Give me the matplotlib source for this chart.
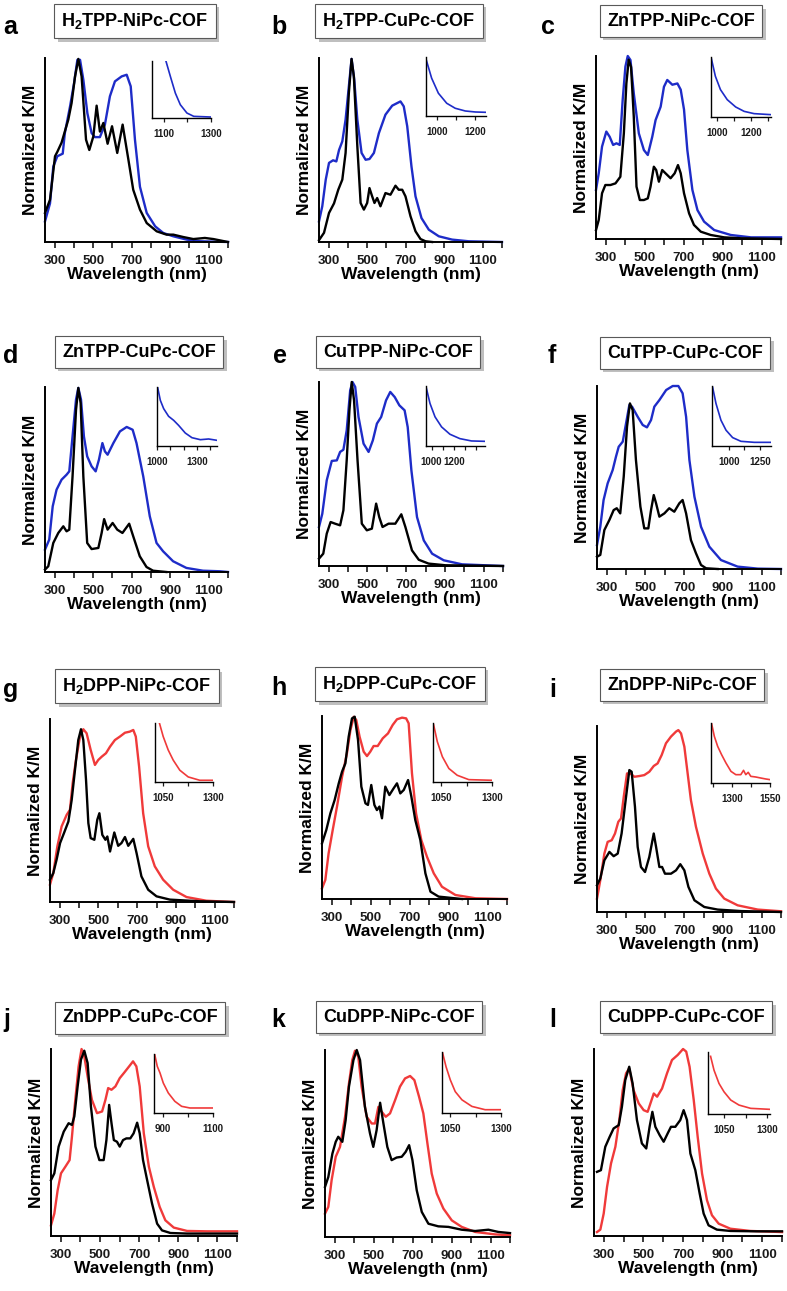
import numpy as np
import matplotlib
matplotlib.use('Agg')
import matplotlib.pyplot as plt
import matplotlib.patheffects as pe
from matplotlib.ticker import FixedLocator

plt.rcParams['font.family'] = ['Liberation Sans', 'DejaVu Sans']
plt.rcParams['font.weight'] = 'bold'
plt.rcParams['mathtext.fontset'] = 'custom'
plt.rcParams['mathtext.rm'] = 'Liberation Sans:bold'
plt.rcParams['mathtext.it'] = 'Liberation Sans:bold'
plt.rcParams['mathtext.bf'] = 'Liberation Sans:bold'

BLUE = '#1e2cc8'
RED = '#f03a3a'

# ---- panel a : H2TPP-NiPc-COF ----
a_wl_k = [250, 276, 302, 314, 336, 371, 388, 406, 423, 440, 463, 480, 501, 518, 535, 553, 575, 598, 625, 653, 683, 708, 743, 778, 830, 881, 916, 968, 1020, 1080, 1124, 1200]
a_k = [0.158, 0.23, 0.466, 0.49, 0.54, 0.665, 0.755, 0.9, 0.995, 0.9, 0.556, 0.50, 0.574, 0.741, 0.60, 0.647, 0.534, 0.629, 0.484, 0.638, 0.447, 0.284, 0.176, 0.103, 0.058, 0.04, 0.04, 0.027, 0.016, 0.022, 0.016, 0.0]
a_wl_c = [250, 276, 293, 314, 342, 353, 380, 401, 418, 432, 449, 470, 492, 509, 535, 561, 587, 613, 648, 674, 695, 717, 743, 778, 822, 864, 916, 985, 1055, 1200]
a_c = [0.112, 0.21, 0.41, 0.466, 0.48, 0.592, 0.737, 0.864, 0.99, 0.99, 0.882, 0.70, 0.592, 0.57, 0.57, 0.638, 0.792, 0.873, 0.90, 0.909, 0.846, 0.556, 0.30, 0.158, 0.085, 0.049, 0.031, 0.013, 0.004, 0.0]
a_in_wl = [1109, 1128, 1149, 1170, 1198, 1227, 1300]
a_in = [1.0, 0.727, 0.436, 0.233, 0.087, 0.029, 0.017]

# ---- panel b : H2TPP-CuPc-COF ----
b_wl_k = [250, 276, 302, 328, 350, 371, 388, 405, 419, 431, 449, 466, 483, 500, 512, 526, 538, 552, 569, 595, 621, 647, 664, 682, 699, 725, 751, 777, 803, 837]
b_k = [0.01, 0.05, 0.158, 0.21, 0.284, 0.339, 0.484, 0.81, 0.995, 0.90, 0.52, 0.212, 0.176, 0.212, 0.293, 0.248, 0.212, 0.239, 0.194, 0.266, 0.257, 0.306, 0.284, 0.284, 0.248, 0.14, 0.058, 0.016, 0.004, 0.0]
b_wl_c = [250, 267, 285, 302, 323, 340, 354, 371, 388, 405, 419, 433, 449, 471, 492, 512, 535, 561, 595, 630, 656, 673, 690, 708, 730, 751, 782, 820, 872, 941, 1027, 1200]
b_c = [0.112, 0.194, 0.339, 0.43, 0.444, 0.438, 0.50, 0.547, 0.665, 0.846, 0.995, 0.882, 0.665, 0.484, 0.447, 0.451, 0.484, 0.592, 0.692, 0.741, 0.755, 0.764, 0.737, 0.629, 0.411, 0.248, 0.13, 0.067, 0.031, 0.013, 0.004, 0.0]
b_in_wl = [945, 974, 1009, 1052, 1096, 1148, 1200, 1255]
b_in = [0.966, 0.642, 0.386, 0.216, 0.131, 0.085, 0.068, 0.0625]

# ---- panel c : ZnTPP-NiPc-COF ----
c_wl_k = [250, 264, 281, 298, 324, 350, 375, 393, 406, 418, 430, 444, 458, 475, 496, 516, 530, 547, 559, 573, 590, 607, 633, 654, 671, 685, 702, 728, 753, 788, 839, 908, 994, 1200]
c_k = [0.049, 0.104, 0.25, 0.295, 0.295, 0.304, 0.34, 0.577, 0.85, 0.98, 0.94, 0.668, 0.286, 0.213, 0.213, 0.222, 0.286, 0.395, 0.377, 0.313, 0.377, 0.359, 0.332, 0.359, 0.404, 0.359, 0.25, 0.14, 0.077, 0.04, 0.022, 0.009, 0.004, 0.0]
c_wl_c = [250, 264, 281, 303, 320, 338, 355, 372, 387, 401, 413, 427, 444, 470, 496, 516, 539, 556, 582, 599, 616, 642, 668, 685, 702, 719, 745, 771, 805, 857, 942, 1046, 1200]
c_c = [0.268, 0.359, 0.505, 0.587, 0.559, 0.514, 0.523, 0.514, 0.76, 0.942, 1.0, 0.978, 0.796, 0.577, 0.486, 0.459, 0.559, 0.65, 0.723, 0.832, 0.869, 0.843, 0.85, 0.816, 0.707, 0.486, 0.268, 0.158, 0.095, 0.049, 0.022, 0.009, 0.009]
c_in_wl = [965, 991, 1021, 1061, 1111, 1161, 1220, 1320]
c_in = [1.0, 0.678, 0.456, 0.289, 0.167, 0.094, 0.056, 0.039]

# ---- panel d : ZnTPP-CuPc-COF ----
d_wl_k = [250, 267, 293, 319, 345, 362, 376, 393, 411, 423, 435, 449, 469, 492, 527, 544, 557, 575, 601, 625, 652, 687, 708, 742, 777, 811, 880]
d_k = [0.013, 0.031, 0.157, 0.211, 0.247, 0.22, 0.229, 0.517, 0.877, 0.995, 0.913, 0.517, 0.157, 0.124, 0.13, 0.211, 0.286, 0.229, 0.265, 0.229, 0.211, 0.261, 0.193, 0.085, 0.027, 0.007, 0.0]
d_wl_c = [250, 272, 290, 310, 336, 362, 376, 393, 411, 423, 437, 452, 469, 492, 513, 530, 548, 561, 575, 605, 639, 674, 705, 725, 760, 794, 829, 863, 915, 984, 1070, 1157, 1200]
d_c = [0.121, 0.175, 0.355, 0.445, 0.499, 0.526, 0.544, 0.733, 0.932, 0.995, 0.932, 0.733, 0.625, 0.571, 0.544, 0.607, 0.697, 0.652, 0.634, 0.697, 0.76, 0.784, 0.769, 0.697, 0.517, 0.301, 0.157, 0.112, 0.058, 0.022, 0.007, 0.004, 0.0]
d_in_wl = [1005, 1025, 1050, 1087, 1125, 1162, 1212, 1262, 1325, 1387, 1450]
d_in = [0.99, 0.774, 0.633, 0.503, 0.435, 0.35, 0.22, 0.141, 0.107, 0.119, 0.096]

# ---- panel e : CuTPP-NiPc-COF ----
e_wl_k = [250, 272, 290, 310, 333, 359, 376, 393, 407, 419, 431, 449, 471, 497, 523, 545, 561, 578, 609, 644, 675, 696, 730, 765, 816, 903, 1200]
e_k = [0.04, 0.067, 0.176, 0.239, 0.23, 0.221, 0.303, 0.574, 0.846, 1.0, 0.9, 0.574, 0.23, 0.194, 0.203, 0.339, 0.266, 0.212, 0.23, 0.23, 0.281, 0.212, 0.085, 0.034, 0.013, 0.004, 0.0]
e_wl_c = [250, 267, 290, 316, 342, 359, 376, 393, 411, 423, 437, 454, 480, 506, 528, 549, 571, 596, 618, 641, 665, 692, 708, 727, 756, 791, 834, 894, 989, 1200]
e_c = [0.212, 0.284, 0.466, 0.571, 0.574, 0.62, 0.632, 0.737, 0.955, 1.0, 0.973, 0.81, 0.665, 0.62, 0.683, 0.774, 0.81, 0.9, 0.946, 0.918, 0.873, 0.846, 0.755, 0.52, 0.266, 0.139, 0.067, 0.031, 0.009, 0.0]
e_in_wl = [950, 986, 1031, 1090, 1165, 1254, 1359, 1478]
e_in = [0.989, 0.709, 0.486, 0.318, 0.196, 0.123, 0.084, 0.078]

# ---- panel f : CuTPP-CuPc-COF ----
f_wl_k = [250, 267, 288, 314, 336, 352, 370, 388, 405, 420, 434, 451, 474, 494, 515, 529, 543, 555, 572, 598, 623, 649, 675, 692, 710, 735, 761, 787, 813, 873]
f_k = [0.067, 0.077, 0.213, 0.268, 0.322, 0.332, 0.304, 0.505, 0.778, 0.905, 0.869, 0.596, 0.341, 0.222, 0.222, 0.322, 0.404, 0.359, 0.286, 0.304, 0.332, 0.313, 0.359, 0.377, 0.304, 0.158, 0.086, 0.022, 0.004, 0.0]
f_wl_c = [250, 267, 284, 305, 331, 348, 362, 383, 400, 417, 431, 460, 486, 508, 529, 546, 572, 607, 641, 670, 692, 710, 727, 753, 787, 830, 890, 976, 1080, 1200]
f_c = [0.131, 0.231, 0.377, 0.468, 0.541, 0.614, 0.668, 0.696, 0.796, 0.896, 0.887, 0.832, 0.787, 0.774, 0.814, 0.887, 0.923, 0.978, 1.0, 1.0, 0.96, 0.832, 0.596, 0.395, 0.231, 0.122, 0.049, 0.013, 0.002, 0.0]
f_in_wl = [870, 897, 937, 978, 1031, 1098, 1206, 1340]
f_in = [0.978, 0.709, 0.43, 0.263, 0.14, 0.078, 0.061, 0.061]

# ---- panel g : H2DPP-NiPc-COF ----
g_wl_k = [250, 267, 284, 302, 322, 345, 362, 379, 396, 410, 422, 436, 448, 460, 479, 494, 505, 520, 536, 546, 560, 582, 602, 619, 637, 654, 680, 697, 722, 757, 800, 869, 1023, 1200]
g_k = [0.122, 0.158, 0.231, 0.322, 0.376, 0.44, 0.558, 0.722, 0.885, 0.944, 0.885, 0.667, 0.431, 0.349, 0.34, 0.449, 0.485, 0.367, 0.34, 0.358, 0.276, 0.38, 0.307, 0.322, 0.355, 0.307, 0.345, 0.267, 0.14, 0.067, 0.031, 0.013, 0.004, 0.0]
g_wl_c = [250, 267, 288, 310, 336, 353, 367, 384, 405, 422, 439, 460, 482, 499, 517, 539, 560, 585, 611, 637, 662, 680, 693, 710, 731, 757, 791, 834, 886, 955, 1057, 1200]
g_c = [0.095, 0.158, 0.304, 0.413, 0.476, 0.504, 0.649, 0.776, 0.904, 0.944, 0.922, 0.831, 0.749, 0.776, 0.794, 0.813, 0.849, 0.885, 0.904, 0.925, 0.931, 0.94, 0.904, 0.74, 0.485, 0.304, 0.195, 0.122, 0.067, 0.027, 0.007, 0.0]
g_in_wl = [1032, 1051, 1076, 1101, 1134, 1176, 1234, 1300]
g_in = [1.0, 0.771, 0.543, 0.371, 0.2, 0.086, 0.029, 0.029]

# ---- panel h : H2DPP-CuPc-COF ----
h_wl_k = [250, 272, 293, 315, 336, 353, 370, 387, 404, 418, 435, 452, 473, 486, 503, 519, 532, 545, 558, 575, 596, 618, 635, 652, 670, 692, 709, 729, 755, 781, 807, 849, 969]
h_k = [0.304, 0.377, 0.468, 0.541, 0.632, 0.696, 0.741, 0.887, 0.987, 0.996, 0.869, 0.614, 0.523, 0.514, 0.623, 0.514, 0.486, 0.505, 0.441, 0.614, 0.568, 0.605, 0.632, 0.577, 0.596, 0.65, 0.559, 0.432, 0.322, 0.14, 0.04, 0.013, 0.0]
h_wl_c = [250, 267, 284, 305, 327, 353, 378, 396, 413, 426, 443, 464, 481, 498, 515, 536, 562, 589, 613, 635, 661, 682, 695, 712, 733, 760, 789, 824, 866, 935, 1038, 1200]
h_c = [0.058, 0.104, 0.25, 0.377, 0.505, 0.668, 0.796, 0.923, 0.996, 0.978, 0.887, 0.805, 0.781, 0.805, 0.836, 0.836, 0.878, 0.905, 0.951, 0.982, 0.991, 0.987, 0.96, 0.687, 0.468, 0.322, 0.231, 0.14, 0.067, 0.022, 0.004, 0.0]
h_in_wl = [1013, 1031, 1056, 1088, 1129, 1186, 1300]
h_in = [0.971, 0.686, 0.429, 0.229, 0.114, 0.04, 0.029]

# ---- panel i : ZnDPP-NiPc-COF ----
i_wl_k = [250, 267, 288, 314, 336, 357, 377, 400, 417, 429, 446, 460, 477, 498, 520, 543, 555, 572, 586, 601, 632, 658, 680, 701, 722, 753, 804, 873, 994, 1200]
i_k = [0.144, 0.18, 0.278, 0.323, 0.3, 0.314, 0.422, 0.619, 0.763, 0.754, 0.566, 0.35, 0.242, 0.215, 0.296, 0.422, 0.35, 0.242, 0.242, 0.206, 0.206, 0.224, 0.257, 0.224, 0.135, 0.063, 0.027, 0.013, 0.005, 0.0]
i_wl_c = [250, 267, 288, 305, 326, 343, 360, 374, 388, 405, 422, 443, 469, 494, 520, 543, 563, 584, 606, 632, 658, 670, 684, 701, 718, 735, 761, 796, 830, 864, 907, 976, 1080, 1200]
i_c = [0.072, 0.171, 0.314, 0.377, 0.386, 0.422, 0.485, 0.503, 0.619, 0.745, 0.745, 0.727, 0.731, 0.736, 0.754, 0.785, 0.799, 0.844, 0.907, 0.943, 0.97, 0.978, 0.96, 0.889, 0.745, 0.601, 0.458, 0.314, 0.206, 0.126, 0.072, 0.036, 0.013, 0.004]
i_in_wl = [1164, 1182, 1204, 1230, 1259, 1292, 1324, 1357, 1375, 1390, 1406, 1423, 1456, 1489, 1522, 1550]
i_in = [0.989, 0.778, 0.611, 0.472, 0.333, 0.194, 0.139, 0.139, 0.211, 0.139, 0.178, 0.111, 0.1, 0.083, 0.067, 0.056]

# ---- panel j : ZnDPP-CuPc-COF ----
j_wl_k = [250, 267, 289, 315, 340, 357, 369, 386, 403, 420, 437, 454, 477, 497, 519, 533, 547, 559, 571, 587, 601, 618, 635, 655, 672, 690, 703, 720, 741, 766, 792, 817, 860, 945, 1200]
j_k = [0.299, 0.335, 0.478, 0.558, 0.603, 0.594, 0.639, 0.8, 0.943, 0.991, 0.925, 0.692, 0.478, 0.406, 0.406, 0.513, 0.701, 0.603, 0.513, 0.504, 0.478, 0.513, 0.522, 0.522, 0.549, 0.606, 0.549, 0.406, 0.299, 0.174, 0.066, 0.03, 0.016, 0.013, 0.013]
j_wl_c = [250, 267, 284, 301, 323, 345, 357, 374, 391, 406, 420, 437, 459, 485, 511, 528, 542, 559, 579, 601, 625, 652, 669, 686, 703, 724, 750, 775, 805, 834, 877, 945, 1047, 1200]
j_c = [0.057, 0.12, 0.245, 0.335, 0.37, 0.406, 0.531, 0.728, 0.907, 1.0, 0.961, 0.853, 0.728, 0.657, 0.666, 0.728, 0.791, 0.782, 0.8, 0.844, 0.875, 0.911, 0.934, 0.907, 0.8, 0.549, 0.37, 0.263, 0.156, 0.084, 0.045, 0.027, 0.025, 0.025]
j_in_wl = [868, 878, 889, 902, 922, 948, 975, 1008, 1100]
j_in = [0.989, 0.791, 0.678, 0.508, 0.339, 0.198, 0.113, 0.085, 0.085]

# ---- panel k : CuDPP-NiPc-COF ----
k_wl_k = [250, 267, 288, 305, 318, 339, 356, 373, 396, 413, 430, 455, 481, 498, 515, 533, 550, 570, 592, 618, 644, 664, 682, 699, 721, 747, 781, 832, 884, 952, 1021, 1089, 1140, 1200]
k_k = [0.268, 0.321, 0.446, 0.509, 0.536, 0.509, 0.625, 0.804, 0.946, 1.0, 0.946, 0.696, 0.554, 0.482, 0.571, 0.718, 0.607, 0.482, 0.411, 0.425, 0.429, 0.455, 0.491, 0.411, 0.25, 0.134, 0.071, 0.057, 0.054, 0.039, 0.032, 0.039, 0.027, 0.021]
k_wl_c = [250, 267, 284, 305, 327, 353, 373, 390, 404, 421, 438, 464, 490, 507, 524, 541, 562, 584, 610, 635, 661, 687, 709, 733, 755, 776, 798, 824, 858, 901, 952, 1021, 1123, 1200]
k_c = [0.125, 0.161, 0.304, 0.429, 0.482, 0.643, 0.821, 0.946, 0.996, 0.964, 0.804, 0.643, 0.607, 0.607, 0.696, 0.67, 0.643, 0.661, 0.732, 0.804, 0.848, 0.861, 0.839, 0.75, 0.661, 0.5, 0.339, 0.232, 0.152, 0.089, 0.054, 0.027, 0.014, 0.009]
k_in_wl = [1013, 1030, 1051, 1075, 1108, 1157, 1222, 1300]
k_in = [0.984, 0.757, 0.541, 0.351, 0.216, 0.108, 0.054, 0.054]

# ---- panel l : CuDPP-CuPc-COF ----
l_wl_k = [265, 285, 307, 329, 349, 375, 391, 408, 428, 445, 467, 492, 514, 531, 545, 560, 582, 602, 622, 639, 661, 686, 703, 720, 737, 762, 784, 804, 829, 871, 939, 1073, 1200]
l_k = [0.343, 0.352, 0.477, 0.53, 0.575, 0.593, 0.691, 0.834, 0.905, 0.816, 0.62, 0.495, 0.468, 0.584, 0.664, 0.584, 0.539, 0.504, 0.548, 0.584, 0.584, 0.62, 0.673, 0.62, 0.441, 0.352, 0.227, 0.12, 0.057, 0.034, 0.027, 0.025, 0.025]
l_wl_c = [265, 282, 299, 316, 336, 358, 378, 395, 412, 428, 450, 476, 501, 521, 538, 552, 569, 594, 619, 644, 673, 700, 716, 733, 754, 774, 796, 821, 846, 880, 939, 1040, 1200]
l_c = [0.021, 0.034, 0.12, 0.263, 0.388, 0.477, 0.62, 0.78, 0.87, 0.896, 0.78, 0.709, 0.673, 0.664, 0.718, 0.762, 0.745, 0.789, 0.87, 0.941, 0.968, 1.0, 0.986, 0.905, 0.727, 0.53, 0.334, 0.191, 0.111, 0.066, 0.039, 0.027, 0.021]
l_in_wl = [970, 990, 1019, 1048, 1087, 1135, 1203, 1315]
l_in = [0.93, 0.706, 0.492, 0.358, 0.225, 0.144, 0.091, 0.075]

letters = ['a', 'b', 'c', 'd', 'e', 'f', 'g', 'h', 'i', 'j', 'k', 'l']
titles = ['H$_2$TPP-NiPc-COF', 'H$_2$TPP-CuPc-COF', 'ZnTPP-NiPc-COF',
          'ZnTPP-CuPc-COF', 'CuTPP-NiPc-COF', 'CuTPP-CuPc-COF',
          'H$_2$DPP-NiPc-COF', 'H$_2$DPP-CuPc-COF', 'ZnDPP-NiPc-COF',
          'ZnDPP-CuPc-COF', 'CuDPP-NiPc-COF', 'CuDPP-CuPc-COF']

black = [(a_wl_k, a_k), (b_wl_k, b_k), (c_wl_k, c_k), (d_wl_k, d_k), (e_wl_k, e_k), (f_wl_k, f_k),
         (g_wl_k, g_k), (h_wl_k, h_k), (i_wl_k, i_k), (j_wl_k, j_k), (k_wl_k, k_k), (l_wl_k, l_k)]
cof = [(a_wl_c, a_c), (b_wl_c, b_c), (c_wl_c, c_c), (d_wl_c, d_c), (e_wl_c, e_c), (f_wl_c, f_c),
       (g_wl_c, g_c), (h_wl_c, h_c), (i_wl_c, i_c), (j_wl_c, j_c), (k_wl_c, k_c), (l_wl_c, l_c)]
insets = [(a_in_wl, a_in), (b_in_wl, b_in), (c_in_wl, c_in), (d_in_wl, d_in), (e_in_wl, e_in), (f_in_wl, f_in),
          (g_in_wl, g_in), (h_in_wl, h_in), (i_in_wl, i_in), (j_in_wl, j_in), (k_in_wl, k_in), (l_in_wl, l_in)]

# inset x ranges and ticks (labelled, unlabelled)
in_xlim = [(1050, 1300), (945, 1255), (965, 1320), (1000, 1450), (950, 1480), (865, 1340),
           (1010, 1300), (1010, 1300), (1160, 1550), (865, 1100), (1010, 1300), (955, 1315)]
in_major = [[1100, 1300], [1000, 1200], [1000, 1200], [1000, 1300], [1000, 1200], [1000, 1250],
            [1050, 1300], [1050, 1300], [1300, 1550], [900, 1100], [1050, 1300], [1050, 1300]]
in_minor = [[1200], [1100], [1100, 1300], [1100, 1200, 1400], [1100, 1300, 1400], [1125],
            [1175], [1175], [1175, 1425], [1000], [1175], [1175]]

# layout in pixels: (left, top, right, bottom)
W, H = 787, 1291
main_px = [(45, 58, 228, 242), (319, 58, 502, 242), (596, 56, 781, 239),
           (45, 387, 228, 572), (319, 382, 503, 566), (597, 386, 781, 569),
           (50, 719, 234, 902), (322, 716, 507, 899), (597, 726, 781, 912),
           (51, 1049, 237, 1236), (325, 1050, 510, 1237), (594, 1049, 782, 1236)]
inset_px = [(152, 61, 211, 118), (426, 57, 486, 116), (711, 57, 771, 117),
            (157, 387, 217, 446), (426, 386, 485, 446), (712, 386, 771, 446),
            (155, 723, 213, 782), (433, 723, 492, 782), (711, 723, 770, 783),
            (154, 1054, 213, 1113), (442, 1052, 501, 1113), (708, 1052, 770, 1114)]
title_px = [(135, 21), (399, 21), (681, 21), (139, 352), (398, 352), (685, 353),
            (137, 686), (400, 684), (682, 685), (140, 1018), (399, 1017), (686, 1017)]
letter_px = [(3, 34), (271, 34), (541, 34), (3, 363), (273, 363), (548, 363),
             (3, 697), (271, 695), (549, 697), (3, 1027), (271, 1027), (549, 1027)]


def px_axes(fig, l, t, r, b):
    return fig.add_axes([l / W, 1 - b / H, (r - l) / W, (b - t) / H])


fig = plt.figure(figsize=(W / 100, H / 100), dpi=100)

for n in range(12):
    col = BLUE if n < 6 else RED
    ax = px_axes(fig, *main_px[n])
    ax.plot(cof[n][0], cof[n][1], color=col, lw=1.7, clip_on=False, zorder=2,
            solid_joinstyle='round')
    ax.plot(black[n][0], black[n][1], color='k', lw=1.7, clip_on=False, zorder=3,
            solid_joinstyle='round')
    ax.set_xlim(250, 1200)
    ax.set_ylim(0, 1)
    ax.patch.set_alpha(0)
    for s in ['top', 'right']:
        ax.spines[s].set_visible(False)
    for s in ['left', 'bottom']:
        ax.spines[s].set_linewidth(1.4)
    ax.xaxis.set_major_locator(FixedLocator([300, 500, 700, 900, 1100]))
    ax.xaxis.set_minor_locator(FixedLocator([400, 600, 800, 1000, 1200]))
    ax.tick_params(axis='x', which='both', direction='out', length=4, width=1.2,
                   labelsize=9.5, pad=5.5, colors='#1a1a1a')
    ax.set_yticks([])
    ax.set_xlabel('Wavelength (nm)', fontsize=12.5, fontweight='bold', labelpad=0)
    ax.set_ylabel('Normalized K/M', fontsize=12.5, fontweight='bold', labelpad=5)

    ins = px_axes(fig, *inset_px[n])
    ins.plot(insets[n][0], insets[n][1], color=col, lw=1.2)
    ins.set_xlim(*in_xlim[n])
    ins.set_ylim(0, 1)
    ins.patch.set_alpha(0)
    for s in ['top', 'right']:
        ins.spines[s].set_visible(False)
    for s in ['left', 'bottom']:
        ins.spines[s].set_linewidth(1.0)
    ins.xaxis.set_major_locator(FixedLocator(in_major[n]))
    ins.xaxis.set_minor_locator(FixedLocator(in_minor[n]))
    ins.tick_params(axis='x', which='both', direction='out', length=3, width=0.9,
                    labelsize=7, pad=5, colors='#1a1a1a')
    ins.set_yticks([])

    tx, ty = title_px[n]
    t = fig.text(tx / W, 1 - ty / H, titles[n], ha='center', va='center',
                 fontsize=13, fontweight='bold',
                 bbox=dict(boxstyle='square,pad=0.4', fc='white', ec='0.35', lw=0.8))
    t.get_bbox_patch().set_path_effects([
        pe.withSimplePatchShadow(offset=(2.5, -2.5), shadow_rgbFace='0.75', alpha=1.0)])

    lx, ly = letter_px[n]
    fig.text(lx / W, 1 - ly / H, letters[n], ha='left', va='baseline',
             fontsize=18, fontweight='bold')

fig.savefig('out.png', dpi=100)
